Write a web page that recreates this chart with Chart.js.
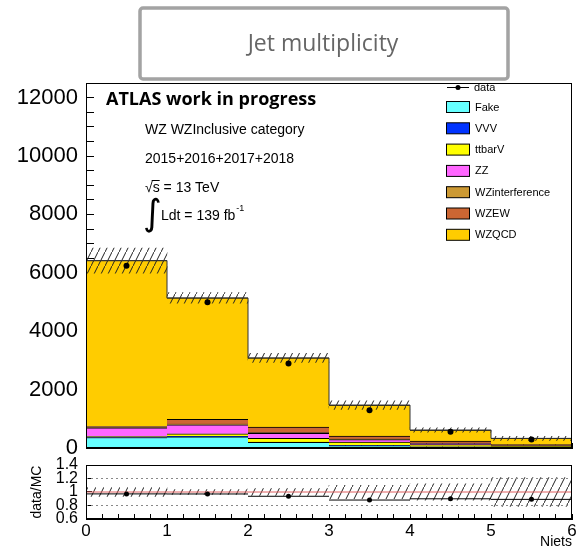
<!DOCTYPE html>
<html>
<head>
<meta charset="utf-8">
<script src="https://cdn.jsdelivr.net/npm/chart.js@4.4.1/dist/chart.umd.min.js"></script>
<style>
  body { margin: 0; background: #fff; }
  #wrap { position: relative; width: 577px; height: 551px; }
  #mainBox { position: absolute; left: 0; top: 0; width: 577px; height: 462px; }
  #ratioBox { position: absolute; left: 0; top: 455px; width: 577px; height: 96px; }
</style>
</head>
<body>
<div id="wrap">
  <div id="mainBox"><canvas id="mainChart"></canvas></div>
  <div id="ratioBox"><canvas id="ratioChart"></canvas></div>
</div>
<script>
// Jet multiplicity - WZ inclusive
const binEdges = [0, 1, 2, 3, 4, 5, 6];
const binCenters = [0.5, 1.5, 2.5, 3.5, 4.5, 5.5];

const fake = [360, 380, 190, 75, 30, 12];
const vvv = [25, 20, 15, 15, 10, 5];
const ttbarV = [15, 85, 130, 110, 75, 40];
const zz = [290, 310, 170, 85, 35, 15];
const wzInterference = [20, 25, 20, 20, 15, 8];
const wzEW = [25, 160, 190, 105, 70, 35];
const wzQCD = [5685, 4160, 2370, 1060, 380, 215];
const dataCounts = [6240, 4990, 2890, 1295, 553, 294];
const mcErr = [430, 180, 155, 145, 75, 70];

const mcNames = ['Fake', 'VVV', 'ttbarV', 'ZZ', 'WZinterference', 'WZEW', 'WZQCD'];
const mcValues = [fake, vvv, ttbarV, zz, wzInterference, wzEW, wzQCD];
const mcColors = ['#66ffff', '#0033ff', '#ffff00', '#ff66ff', '#cc9933', '#cc6633', '#ffcc00'];

const yTicksMain = [0, 2000, 4000, 6000, 8000, 10000, 12000];
const yTicksRatio = [0.6, 0.8, 1, 1.2, 1.4];
const ratioRefs = [0.8, 1.2];

const mcTotal = binCenters.map((_, i) => mcValues.reduce((s, arr) => s + arr[i], 0));
const ratio = dataCounts.map((d, i) => d / mcTotal[i]);
const ratioErr = mcErr.map((e, i) => e / mcTotal[i]);

function makeHatch(w, h) {
    const c = document.createElement('canvas');
    c.width = w; c.height = h;
    const g = c.getContext('2d');
    g.strokeStyle = '#222';
    g.lineWidth = 1;
    g.beginPath();
    g.moveTo(-1, h + 2);
    g.lineTo(w + 1, -2);
    g.stroke();
    return g.createPattern(c, 'repeat');
}

function stepPoints(vals) {
    const last = binEdges[binEdges.length - 1];
    const pts = [{ x: binEdges[0], y: 0 }];
    vals.forEach((v, i) => pts.push({ x: binEdges[i], y: v }));
    pts.push({ x: last, y: vals[vals.length - 1] });
    pts.push({ x: last, y: 0 });
    return pts;
}

const framePlugin = {
    id: 'frame',
    afterDatasetsDraw(chart) {
        const { ctx, chartArea: a } = chart;
        ctx.save();
        ctx.strokeStyle = '#000';
        ctx.lineWidth = 1;
        ctx.strokeRect(Math.round(a.left) + 0.5, Math.round(a.top) + 0.5,
            Math.round(a.right - a.left) - 1, Math.round(a.bottom - a.top) - 1);
        ctx.restore();
    }
};

// Title box + ATLAS texts + legend
const decorPlugin = {
    id: 'decor',
    beforeDraw(chart) {
        const ctx = chart.ctx;
        ctx.save();
        ctx.fillStyle = '#fff';
        ctx.strokeStyle = '#a3a3a3';
        ctx.lineWidth = 3.5;
        ctx.beginPath();
        ctx.roundRect(140, 8, 368, 71, 3);
        ctx.fill();
        ctx.stroke();
        ctx.fillStyle = '#666';
        ctx.font = '23px "Open Sans"';
        ctx.textAlign = 'center';
        ctx.textBaseline = 'middle';
        ctx.fillText('Jet multiplicity', 323, 44);
        ctx.restore();
    },
    afterDraw(chart) {
        const ctx = chart.ctx;
        ctx.save();
        ctx.fillStyle = '#000';
        ctx.textAlign = 'left';
        ctx.textBaseline = 'middle';
        ctx.font = 'bold 18px "Open Sans"';
        ctx.fillText('ATLAS work in progress', 106, 100);

        ctx.font = '14px "Liberation Sans"';
        ctx.fillText('WZ WZInclusive category', 145, 130);
        ctx.fillText('2015+2016+2017+2018', 145, 159);
        ctx.fillText('\u221As = 13 TeV', 145, 188);
        const sqW = ctx.measureText('\u221A').width;
        const sW = ctx.measureText('s').width;
        ctx.beginPath();
        ctx.lineWidth = 1;
        ctx.moveTo(145 + sqW - 1, 180.5);
        ctx.lineTo(145 + sqW + sW, 180.5);
        ctx.stroke();

        ctx.font = '36px "DejaVu Sans"';
        ctx.fillText('\u222B', 143, 216);
        ctx.font = '14px "Liberation Sans"';
        ctx.fillText('Ldt = 139 fb', 161, 216);
        const lw = ctx.measureText('Ldt = 139 fb').width;
        ctx.font = '9px "Liberation Sans"';
        ctx.fillText('-1', 161 + lw + 1, 209);

        // legend
        ctx.font = '11px "Liberation Sans"';
        ctx.strokeStyle = '#000';
        ctx.lineWidth = 1;
        ctx.beginPath();
        ctx.moveTo(447, 87.5);
        ctx.lineTo(469, 87.5);
        ctx.stroke();
        ctx.beginPath();
        ctx.arc(458, 87.5, 2.5, 0, Math.PI * 2);
        ctx.fill();
        ctx.fillText('data', 474, 88);
        mcNames.forEach((name, i) => {
            const y = 107 + i * 21.3;
            ctx.fillStyle = mcColors[i];
            ctx.fillRect(446.5, y - 5.5, 23, 11);
            ctx.strokeRect(446.5, y - 5.5, 23, 11);
            ctx.fillStyle = '#000';
            ctx.fillText(name, 475, y + 0.5);
        });
        ctx.restore();
    }
};

const hatchMain = makeHatch(7, 14);
const hatchRatio = makeHatch(8, 16);

const mcDatasets = mcNames.map((name, k) => ({
    type: 'bar',
    label: name,
    data: binCenters.map((x, i) => ({ x: x, y: mcValues[k][i] })),
    backgroundColor: mcColors[k],
    borderColor: '#000',
    borderWidth: { top: 1, left: 0, right: 0, bottom: 0 },
    borderSkipped: 'start',
    stack: 'mc',
    yAxisID: 'y',
    order: 5,
    barThickness: 'flex',
    barPercentage: 1,
    categoryPercentage: 1
}));

const mainChart = new Chart(document.getElementById('mainChart').getContext('2d'), {
    type: 'bar',
    data: {
        datasets: [
            ...mcDatasets,
            {
                type: 'bar', label: 'MC unc', stack: 'mc', yAxisID: 'y2', order: 2,
                data: binCenters.map((x, i) => ({ x: x, y: [mcTotal[i] - mcErr[i], mcTotal[i] + mcErr[i]] })),
                backgroundColor: hatchMain, borderWidth: 0,
                barThickness: 'flex', barPercentage: 1, categoryPercentage: 1
            },
            {
                type: 'line', label: 'total', yAxisID: 'y2', order: 1,
                data: stepPoints(mcTotal), stepped: true,
                borderColor: '#333', borderWidth: 1, pointRadius: 0, fill: false
            },
            {
                type: 'line', label: 'data', yAxisID: 'y2', order: 0,
                data: binCenters.map((x, i) => ({ x: x, y: dataCounts[i] })),
                showLine: false, pointRadius: 3, pointBackgroundColor: '#000', pointBorderWidth: 0
            }
        ]
    },
    options: {
        responsive: true,
        maintainAspectRatio: false,
        animation: false,
        layout: { padding: { top: 83, right: 5, bottom: 14, left: 0 } },
        plugins: { legend: { display: false }, tooltip: { enabled: false }, title: { display: false } },
        scales: {
            x: {
                type: 'linear', min: 0, max: 6, offset: false,
                afterFit: s => { s.height = 0; s.paddingLeft = 0; s.paddingRight = 0; },
                ticks: { stepSize: 0.2, autoSkip: false, display: false },
                grid: { drawOnChartArea: false, tickLength: -5, color: '#000', offset: false },
                border: { color: '#000' }
            },
            y: {
                stacked: true, min: 0, max: 12500,
                afterFit: s => { s.width = 86; s.paddingTop = 0; s.paddingBottom = 0; },
                ticks: {
                    stepSize: 500, includeBounds: false, autoSkip: false,
                    callback: v => yTicksMain.includes(Math.round(v)) ? String(Math.round(v)) : '',
                    font: { family: 'Liberation Sans', size: 22 }, color: '#000', padding: 16
                },
                grid: { drawOnChartArea: false, tickLength: -8, color: '#000' },
                border: { color: '#000' }
            },
            y2: {
                display: false, min: 0, max: 12500, stacked: false,
                afterFit: s => { s.width = 0; s.paddingTop = 0; s.paddingBottom = 0; }
            }
        }
    },
    plugins: [framePlugin, decorPlugin]
});

// ratio panel
function ratioSegments() {
    const pts = [];
    ratio.forEach((r, i) => {
        pts.push({ x: binEdges[i], y: r });
        pts.push({ x: binEdges[i + 1], y: r });
        pts.push({ x: binEdges[i + 1], y: null });
    });
    return pts;
}

const ratioChart = new Chart(document.getElementById('ratioChart').getContext('2d'), {
    type: 'bar',
    data: {
        datasets: [
            {
                type: 'line', label: 'ratio', data: binCenters.map((x, i) => ({ x: x, y: ratio[i] })),
                showLine: false, pointRadius: 2.5, pointBackgroundColor: '#000', pointBorderWidth: 0
            },
            {
                type: 'line', label: 'ratio bins', data: ratioSegments(),
                borderColor: '#000', borderWidth: 1, pointRadius: 0, spanGaps: false, fill: false
            },
            {
                type: 'line', label: 'one', data: [{ x: 0, y: 1 }, { x: 6, y: 1 }],
                borderColor: '#e06060', borderWidth: 1, pointRadius: 0, fill: false
            },
            ...ratioRefs.map(v => ({
                type: 'line', label: 'ref' + v, data: [{ x: 0, y: v }, { x: 6, y: v }],
                borderColor: '#888', borderWidth: 1, borderDash: [2, 3], pointRadius: 0, fill: false
            })),
            {
                type: 'bar', label: 'unc',
                data: binCenters.map((x, i) => ({ x: x, y: [1 - ratioErr[i], 1 + ratioErr[i]] })),
                backgroundColor: hatchRatio, borderWidth: 0,
                barThickness: 'flex', barPercentage: 1, categoryPercentage: 1
            }
        ]
    },
    options: {
        responsive: true,
        maintainAspectRatio: false,
        animation: false,
        layout: { padding: { top: 10, right: 5, bottom: 0, left: 0 } },
        plugins: { legend: { display: false }, tooltip: { enabled: false } },
        scales: {
            x: {
                type: 'linear', min: 0, max: 6, offset: false,
                afterFit: s => { s.height = 32; s.paddingLeft = 0; s.paddingRight = 0; },
                ticks: {
                    stepSize: 0.2, autoSkip: false, maxRotation: 0,
                    callback: v => Math.abs(v - Math.round(v)) < 1e-6 ? String(Math.round(v)) : '',
                    font: { family: 'Liberation Sans', size: 17 }, color: '#000', padding: 7
                },
                grid: { drawOnChartArea: false, tickLength: -5, color: '#000', offset: false },
                border: { color: '#000' },
                title: {
                    display: true, text: 'Niets', align: 'end',
                    font: { family: 'Liberation Sans', size: 14 }, color: '#000', padding: { top: 0, bottom: 0 }
                }
            },
            y: {
                min: 0.6, max: 1.4,
                afterFit: s => { s.width = 86; s.paddingTop = 0; s.paddingBottom = 0; },
                ticks: {
                    stepSize: 0.2, autoSkip: false,
                    callback: v => {
                        const r = Math.round(v * 10) / 10;
                        return yTicksRatio.includes(r) ? String(r) : '';
                    },
                    font: { family: 'Liberation Sans', size: 16 }, color: '#000', padding: 14
                },
                grid: { drawOnChartArea: false, tickLength: -6, color: '#000' },
                border: { color: '#000' },
                title: {
                    display: true, text: 'data/MC',
                    font: { family: 'Liberation Sans', size: 14 }, color: '#000', padding: { top: 29, bottom: 0 }
                }
            }
        }
    },
    plugins: [framePlugin]
});
</script>
</body>
</html>
